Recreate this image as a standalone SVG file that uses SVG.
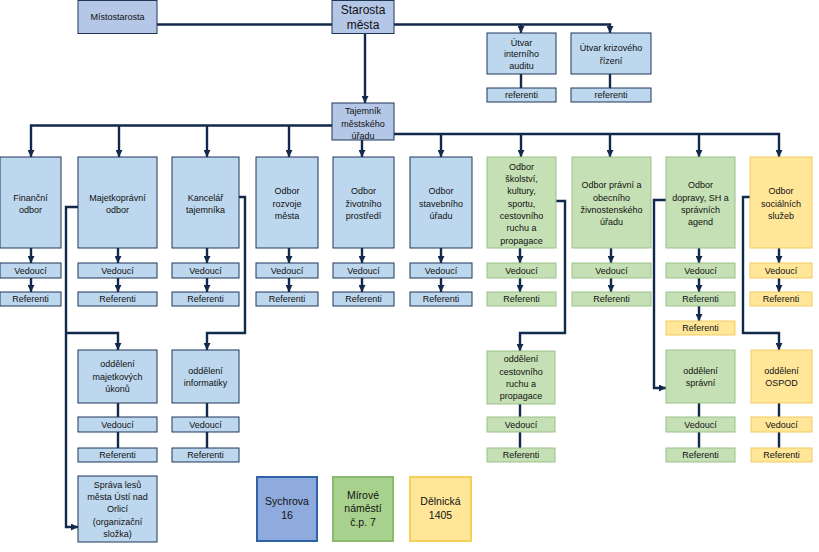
<svg xmlns="http://www.w3.org/2000/svg" width="819" height="552" viewBox="0 0 819 552">
<style>
.top{fill:#b4c7e7;stroke:#1f3659;stroke-width:1}
.b{fill:#bdd7ee;stroke:#1f3659;stroke-width:1}
.g{fill:#c5e0b4;stroke:#9cc08a;stroke-width:1}
.y{fill:#ffe699;stroke:#f2cc62;stroke-width:1}
.l1{fill:#8faadc;stroke:#2e64a6;stroke-width:2}
.l2{fill:#a9d18e;stroke:#8bb96e;stroke-width:2}
.l3{fill:#ffe699;stroke:#f5cf5a;stroke-width:2}
text{font-family:"Liberation Sans","DejaVu Sans",sans-serif;font-size:9px;fill:#111;text-anchor:middle}
.big{font-size:12px}
.lg{font-size:10.5px}
.c{fill:none;stroke:#13294b;stroke-width:2.4}
.a{marker-end:url(#ah)}
</style>
<defs>
<marker id="ah" viewBox="0 0 8 8" refX="8" refY="4" markerWidth="7" markerHeight="7" markerUnits="userSpaceOnUse" orient="auto">
<path d="M0,0 L8,4 L0,8 z" fill="#13294b"/>
</marker>
</defs>
<rect width="819" height="552" fill="#fff"/>

<g id="connectors">
<path class="c" d="M157,24.5 H332"/>
<path class="c a" d="M394,24.5 H610 V33"/>
<path class="c a" d="M521,24.5 V33"/>
<path class="c" d="M521,74 V88"/>
<path class="c" d="M610,74 V88"/>
<path class="c a" d="M365,33 V103"/>
<path class="c a" d="M332,125.5 H31 V157"/>
<path class="c a" d="M119,125.5 V157"/>
<path class="c a" d="M207,125.5 V157"/>
<path class="c a" d="M289,125.5 V157"/>
<path class="c a" d="M362,140 V157"/>
<path class="c a" d="M394,134 H779 V157"/>
<path class="c a" d="M441,134 V157"/>
<path class="c a" d="M521,134 V157"/>
<path class="c a" d="M610,134 V157"/>
<path class="c a" d="M699,134 V157"/>
<path class="c a" d="M31,248 V263"/><path class="c a" d="M31,278 V292"/>
<path class="c a" d="M118,248 V263"/><path class="c a" d="M118,278 V292"/>
<path class="c a" d="M207,248 V263"/><path class="c a" d="M207,278 V292"/>
<path class="c a" d="M289,248 V263"/><path class="c a" d="M289,278 V292"/>
<path class="c a" d="M362,248 V263"/><path class="c a" d="M362,278 V292"/>
<path class="c a" d="M441,248 V263"/><path class="c a" d="M441,278 V292"/>
<path class="c a" d="M520,248 V263"/><path class="c a" d="M520,278 V292"/>
<path class="c a" d="M611,248 V263"/><path class="c a" d="M611,278 V292"/>
<path class="c a" d="M699,248 V263"/><path class="c a" d="M699,278 V292"/>
<path class="c a" d="M779,248 V263"/><path class="c a" d="M779,278 V292"/>
<path class="c a" d="M699,306 V321"/>
<path class="c a" d="M78,207 H66 V527 H78"/>
<path class="c a" d="M66,333 H118 V350"/>
<path class="c a" d="M239,197 H245 V333 H207 V350"/>
<path class="c a" d="M556,201 H565 V333 H520 V351"/>
<path class="c a" d="M666,200 H654 V388 H666"/>
<path class="c a" d="M750,197 H743 V333 H779 V350"/>
<path class="c" d="M118,403 V417 M118,432 V448"/>
<path class="c" d="M207,403 V417 M207,432 V448"/>
<path class="c" d="M520,404 V417 M520,432 V448"/>
<path class="c" d="M699,403 V417 M699,432 V448"/>
<path class="c" d="M779,403 V417 M779,432 V448"/>
</g>

<g id="mistostarosta"><rect class="top" x="78" y="0.5" width="79" height="33"/><text x="117.5" y="20.2">Místostarosta</text></g>
<g id="starosta"><rect class="top" x="332" y="0.5" width="62" height="33"/><text class="big" x="363" y="14.3">Starosta</text><text class="big" x="363" y="29">města</text></g>
<g id="utvar-auditu"><rect class="b" x="487" y="33" width="69" height="41"/><text x="521.5" y="45.9">Útvar</text><text x="521.5" y="57.2">interního</text><text x="521.5" y="68.5">auditu</text></g>
<g id="utvar-krizoveho"><rect class="b" x="571" y="33" width="80" height="41"/><text x="611" y="50.9">Útvar krizového</text><text x="611" y="63.9">řízení</text></g>
<g id="ref-auditu"><rect class="b" x="487" y="88" width="69" height="14"/><text x="521.5" y="98.2">referenti</text></g>
<g id="ref-krizoveho"><rect class="b" x="571" y="88" width="80" height="14"/><text x="611" y="98.2">referenti</text></g>
<g id="tajemnik"><rect class="top" x="332" y="103" width="62" height="37"/><text x="363" y="114.2">Tajemník</text><text x="363" y="126.5">městského</text><text x="363" y="138.6">úřadu</text></g>

<g id="financni"><rect class="b" x="0" y="157" width="61" height="91"/><text x="30.5" y="200.5">Finanční</text><text x="30.5" y="212.9">odbor</text></g>
<g id="financni-ved"><rect class="b" x="0" y="263" width="61" height="15"/><text x="30.5" y="273.7">Vedoucí</text></g>
<g id="financni-ref"><rect class="b" x="0" y="292" width="61" height="14"/><text x="30.5" y="302.2">Referenti</text></g>

<g id="majetkopravni"><rect class="b" x="78" y="157" width="79" height="91"/><text x="117.5" y="200.5">Majetkoprávní</text><text x="117.5" y="212.9">odbor</text></g>
<g id="majetkopravni-ved"><rect class="b" x="78" y="263" width="79" height="15"/><text x="117.5" y="273.7">Vedoucí</text></g>
<g id="majetkopravni-ref"><rect class="b" x="78" y="292" width="79" height="14"/><text x="117.5" y="302.2">Referenti</text></g>

<g id="kancelar"><rect class="b" x="172" y="157" width="67" height="91"/><text x="205.5" y="200.5">Kancelář</text><text x="205.5" y="212.9">tajemníka</text></g>
<g id="kancelar-ved"><rect class="b" x="172" y="263" width="67" height="15"/><text x="205.5" y="273.7">Vedoucí</text></g>
<g id="kancelar-ref"><rect class="b" x="172" y="292" width="67" height="14"/><text x="205.5" y="302.2">Referenti</text></g>

<g id="rozvoje"><rect class="b" x="256" y="157" width="62" height="91"/><text x="287" y="194.4">Odbor</text><text x="287" y="206.7">rozvoje</text><text x="287" y="219">města</text></g>
<g id="rozvoje-ved"><rect class="b" x="256" y="263" width="62" height="15"/><text x="287" y="273.7">Vedoucí</text></g>
<g id="rozvoje-ref"><rect class="b" x="256" y="292" width="62" height="14"/><text x="287" y="302.2">Referenti</text></g>

<g id="zivotniho"><rect class="b" x="333" y="157" width="61" height="91"/><text x="363.5" y="194.4">Odbor</text><text x="363.5" y="206.7">životního</text><text x="363.5" y="219">prostředí</text></g>
<g id="zivotniho-ved"><rect class="b" x="333" y="263" width="61" height="15"/><text x="363.5" y="273.7">Vedoucí</text></g>
<g id="zivotniho-ref"><rect class="b" x="333" y="292" width="61" height="14"/><text x="363.5" y="302.2">Referenti</text></g>

<g id="stavebniho"><rect class="b" x="410" y="157" width="62" height="91"/><text x="441" y="194.4">Odbor</text><text x="441" y="206.7">stavebního</text><text x="441" y="219">úřadu</text></g>
<g id="stavebniho-ved"><rect class="b" x="410" y="263" width="62" height="15"/><text x="441" y="273.7">Vedoucí</text></g>
<g id="stavebniho-ref"><rect class="b" x="410" y="292" width="62" height="14"/><text x="441" y="302.2">Referenti</text></g>

<g id="skolstvi"><rect class="g" x="487" y="157" width="69" height="91"/><text x="521.5" y="169.8">Odbor</text><text x="521.5" y="182.1">školství,</text><text x="521.5" y="194.4">kultury,</text><text x="521.5" y="206.7">sportu,</text><text x="521.5" y="219">cestovního</text><text x="521.5" y="231.3">ruchu a</text><text x="521.5" y="243.6">propagace</text></g>
<g id="skolstvi-ved"><rect class="g" x="487" y="263" width="69" height="15"/><text x="521.5" y="273.7">Vedoucí</text></g>
<g id="skolstvi-ref"><rect class="g" x="487" y="292" width="69" height="14"/><text x="521.5" y="302.2">Referenti</text></g>

<g id="pravni"><rect class="g" x="572" y="157" width="79" height="91"/><text x="611.5" y="188.2">Odbor právní a</text><text x="611.5" y="200.5">obecního</text><text x="611.5" y="212.9">živnostenského</text><text x="611.5" y="225.2">úřadu</text></g>
<g id="pravni-ved"><rect class="g" x="572" y="263" width="79" height="15"/><text x="611.5" y="273.7">Vedoucí</text></g>
<g id="pravni-ref"><rect class="g" x="572" y="292" width="79" height="14"/><text x="611.5" y="302.2">Referenti</text></g>

<g id="dopravy"><rect class="g" x="666" y="157" width="69" height="91"/><text x="700.5" y="188.2">Odbor</text><text x="700.5" y="200.5">dopravy, SH a</text><text x="700.5" y="212.9">správních</text><text x="700.5" y="225.2">agend</text></g>
<g id="dopravy-ved"><rect class="g" x="666" y="263" width="69" height="15"/><text x="700.5" y="273.7">Vedoucí</text></g>
<g id="dopravy-ref"><rect class="g" x="666" y="292" width="69" height="14"/><text x="700.5" y="302.2">Referenti</text></g>
<g id="dopravy-ref2"><rect class="y" x="666" y="321" width="69" height="14"/><text x="700.5" y="331.2">Referenti</text></g>

<g id="socialnich"><rect class="y" x="750" y="157" width="62" height="91"/><text x="781" y="194.4">Odbor</text><text x="781" y="206.7">sociálních</text><text x="781" y="219">služeb</text></g>
<g id="socialnich-ved"><rect class="y" x="750" y="263" width="62" height="15"/><text x="781" y="273.7">Vedoucí</text></g>
<g id="socialnich-ref"><rect class="y" x="750" y="292" width="62" height="14"/><text x="781" y="302.2">Referenti</text></g>

<g id="odd-majetkovych"><rect class="b" x="78" y="350" width="79" height="53"/><text x="117.5" y="367.2">oddělení</text><text x="117.5" y="379.7">majetkových</text><text x="117.5" y="392.2">úkonů</text></g>
<g id="odd-majetkovych-ved"><rect class="b" x="78" y="417" width="79" height="15"/><text x="117.5" y="427.7">Vedoucí</text></g>
<g id="odd-majetkovych-ref"><rect class="b" x="78" y="448" width="79" height="14"/><text x="117.5" y="458.2">Referenti</text></g>

<g id="sprava-lesu"><rect class="b" x="78" y="476" width="79" height="66"/><text x="117.5" y="487.6">Správa lesů</text><text x="117.5" y="499.9">města Ústí nad</text><text x="117.5" y="512.2">Orlicí</text><text x="117.5" y="524.5">(organizační</text><text x="117.5" y="536.8">složka)</text></g>

<g id="odd-informatiky"><rect class="b" x="172" y="350" width="67" height="53"/><text x="205.5" y="373.5">oddělení</text><text x="205.5" y="385.9">informatiky</text></g>
<g id="odd-informatiky-ved"><rect class="b" x="172" y="417" width="67" height="15"/><text x="205.5" y="427.7">Vedoucí</text></g>
<g id="odd-informatiky-ref"><rect class="b" x="172" y="448" width="67" height="14"/><text x="205.5" y="458.2">Referenti</text></g>

<g id="odd-cestovniho"><rect class="g" x="487" y="351" width="68" height="53"/><text x="521" y="362.2">oddělení</text><text x="521" y="374.5">cestovního</text><text x="521" y="386.8">ruchu a</text><text x="521" y="399.1">propagace</text></g>
<g id="odd-cestovniho-ved"><rect class="g" x="487" y="417" width="68" height="15"/><text x="521" y="427.7">Vedoucí</text></g>
<g id="odd-cestovniho-ref"><rect class="g" x="487" y="448" width="68" height="14"/><text x="521" y="458.2">Referenti</text></g>

<g id="odd-spravni"><rect class="g" x="666" y="350" width="69" height="53"/><text x="700.5" y="373.5">oddělení</text><text x="700.5" y="385.9">správní</text></g>
<g id="odd-spravni-ved"><rect class="g" x="666" y="417" width="69" height="15"/><text x="700.5" y="427.7">Vedoucí</text></g>
<g id="odd-spravni-ref"><rect class="g" x="666" y="448" width="69" height="14"/><text x="700.5" y="458.2">Referenti</text></g>

<g id="odd-ospod"><rect class="y" x="751" y="350" width="61" height="53"/><text x="781.5" y="373.5">oddělení</text><text x="781.5" y="385.9">OSPOD</text></g>
<g id="odd-ospod-ved"><rect class="y" x="751" y="417" width="61" height="15"/><text x="781.5" y="427.7">Vedoucí</text></g>
<g id="odd-ospod-ref"><rect class="y" x="751" y="448" width="61" height="14"/><text x="781.5" y="458.2">Referenti</text></g>

<g id="legend-sychrova"><rect class="l1" x="257" y="477" width="60" height="64"/><text class="lg" x="287" y="505.4">Sychrova</text><text class="lg" x="287" y="519.1">16</text></g>
<g id="legend-mirove"><rect class="l2" x="333" y="477" width="60" height="64"/><text class="lg" x="363" y="498.5">Mírové</text><text class="lg" x="363" y="512.2">náměstí</text><text class="lg" x="363" y="525.9">č.p. 7</text></g>
<g id="legend-delnicka"><rect class="l3" x="410" y="477" width="61" height="64"/><text class="lg" x="440.5" y="505.4">Dělnická</text><text class="lg" x="440.5" y="519.1">1405</text></g>
</svg>
